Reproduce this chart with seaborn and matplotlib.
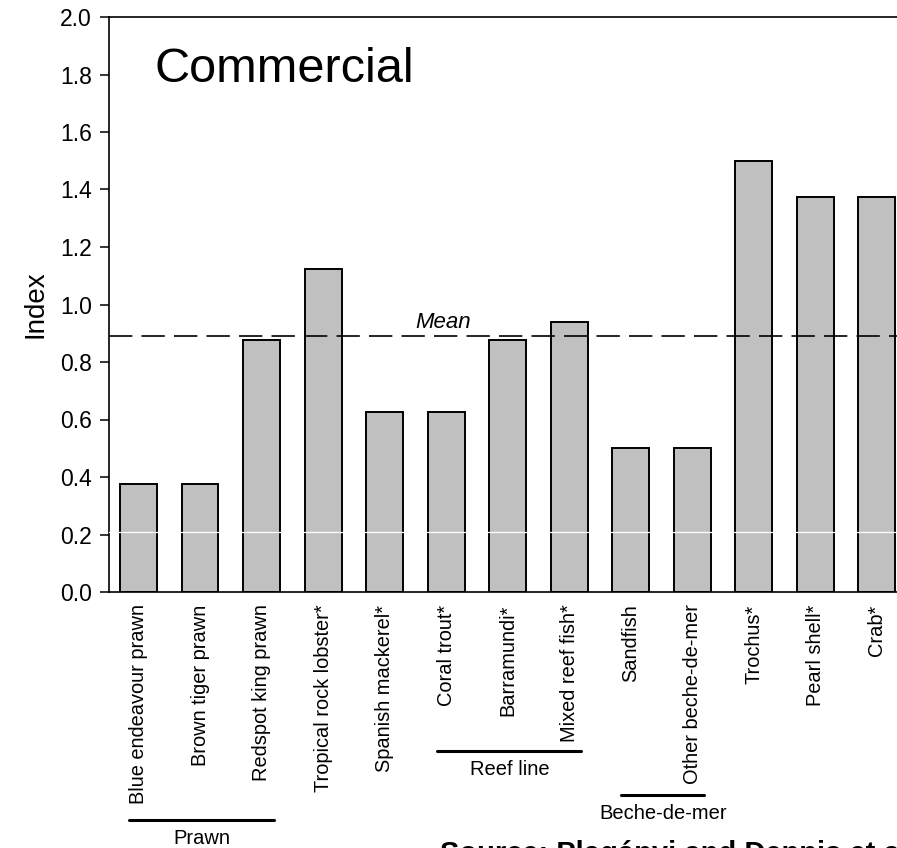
import numpy as np
import pandas as pd
import seaborn as sns
import matplotlib.pyplot as plt
from matplotlib.transforms import blended_transform_factory

species = ["Blue endeavour prawn", "Brown tiger prawn", "Redspot king prawn",
           "Tropical rock lobster*", "Spanish mackerel*", "Coral trout*",
           "Barramundi*", "Mixed reef fish*", "Sandfish", "Other beche-de-mer",
           "Trochus*", "Pearl shell*", "Crab*"]
index_values = [0.375, 0.375, 0.875, 1.125, 0.625, 0.625, 0.875, 0.9375,
                0.5, 0.5, 1.5, 1.375, 1.375]
mean_index = 0.89

group_names = ["Prawn", "Reef line", "Beche-de-mer"]
group_first = [0, 5, 8]
group_last = [2, 7, 9]

df = pd.DataFrame({"Species": species, "Index": index_values})

sns.set_style("ticks")
plt.rcParams["font.family"] = ["Liberation Sans", "DejaVu Sans"]
plt.rcParams["text.color"] = "black"
plt.rcParams["axes.labelcolor"] = "black"
plt.rcParams["xtick.color"] = "black"
plt.rcParams["ytick.color"] = "black"

fig = plt.figure(figsize=(8.97, 8.48), dpi=100)
ax = fig.add_axes([109 / 897, 256 / 848, 788 / 897, 575 / 848])

sns.barplot(data=df, x="Species", y="Index", order=species, color="#c0c0c0",
            edgecolor="black", linewidth=1.4, width=0.6, saturation=1, ax=ax)

# white grid line that only shows on the bars
ax.axhline(0.207, color="white", lw=0.9, zorder=3)

ax.axhline(mean_index, color="black", lw=1.2, dashes=(14, 5.5), zorder=4)
ax.text(4.95, mean_index + 0.03, "Mean", style="italic", fontsize=16,
        ha="center", va="baseline")

ax.set_xlim(-0.48, 12.33)
ax.set_ylim(0, 2.0)
ax.set_yticks(np.arange(0, 2.01, 0.2))
ax.set_yticklabels([f"{v:.1f}" for v in np.arange(0, 2.01, 0.2)])
ax.tick_params(axis="y", direction="out", length=6.5, width=1.1, pad=6,
               labelsize=16.5)
ax.tick_params(axis="x", length=0, pad=9, labelsize=14.4)
plt.setp(ax.get_xticklabels(), rotation=90)
ax.set_xlabel("")
ax.set_ylabel("Index", fontsize=20, labelpad=8)

for s in ["left", "top", "bottom"]:
    ax.spines[s].set_linewidth(1.2)
    ax.spines[s].set_color("black")
    ax.spines[s].set_visible(True)
ax.spines["right"].set_visible(False)

ax.text(0.058, 0.887, "Commercial", transform=ax.transAxes, fontsize=35,
        ha="left", va="baseline")

# group brackets under the tick labels
trans = blended_transform_factory(ax.transData, ax.transAxes)
line_y = [-0.397, -0.277, -0.353]
for name, a, b, ly in zip(group_names, group_first, group_last, line_y):
    ax.plot([a - 0.15, b + 0.2], [ly, ly], color="black", lw=2.2,
            transform=trans, clip_on=False)
    ax.text((a + b) / 2 + 0.03, ly - 0.032, name, transform=trans,
            fontsize=14.5, ha="center", va="center")

fig.text(440 / 897, 8 / 848, "Source: Plagányi and Dennis et al 2013",
         fontsize=21, fontweight="bold", ha="left", va="top")

fig.savefig("out.png", dpi=100)
